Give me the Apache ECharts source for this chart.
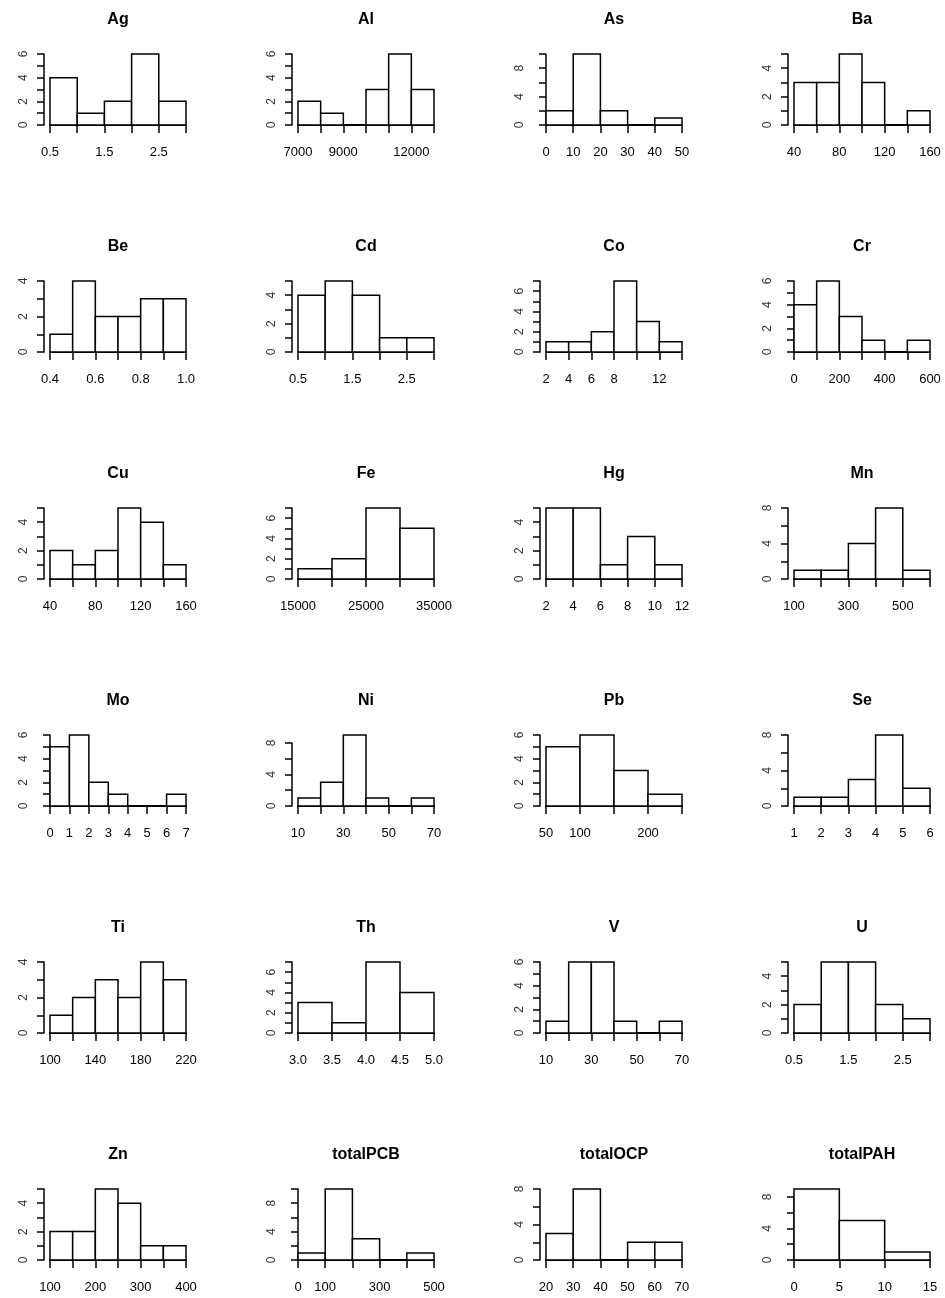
<!DOCTYPE html>
<html>
<head>
<meta charset="utf-8">
<script src="https://cdn.jsdelivr.net/npm/echarts@6/dist/echarts.min.js"></script>
<style>
  html, body { margin: 0; padding: 0; background: #ffffff; }
  #chart { width: 945px; height: 1298px; }
</style>
</head>
<body>
<div id="chart"></div>
<script>
// ---- data ----
const panelNames = ['Ag','Al','As','Ba','Be','Cd','Co','Cr','Cu','Fe','Hg','Mn',
                    'Mo','Ni','Pb','Se','Ti','Th','V','U','Zn','totalPCB','totalOCP','totalPAH'];
const breakStart = [0.5, 7000, 0, 40, 0.4, 0.5, 2, 0, 40, 15000, 2, 100,
                    0, 10, 50, 1, 100, 3.0, 10, 0.5, 100, 0, 20, 0];
const breakWidth = [0.5, 1000, 10, 20, 0.1, 0.5, 2, 100, 20, 5000, 2, 100,
                    1, 10, 50, 1, 20, 0.5, 10, 0.5, 50, 100, 10, 5];
const binCounts = [
  [4,1,2,6,2],        // Ag
  [2,1,0,3,6,3],      // Al
  [2,10,2,0,1],       // As
  [3,3,5,3,0,1],      // Ba
  [1,4,2,2,3,3],      // Be
  [4,5,4,1,1],        // Cd
  [1,1,2,7,3,1],      // Co
  [4,6,3,1,0,1],      // Cr
  [2,1,2,5,4,1],      // Cu
  [1,2,7,5],          // Fe
  [5,5,1,3,1],        // Hg
  [1,1,4,8,1],        // Mn
  [5,6,2,1,0,0,1],    // Mo
  [1,3,9,1,0,1],      // Ni
  [5,6,3,1],          // Pb
  [1,1,3,8,2],        // Se
  [1,2,3,2,4,3],      // Ti
  [3,1,7,4],          // Th
  [1,6,6,1,0,1],      // V
  [2,5,5,2,1],        // U
  [2,2,5,4,1,1],      // Zn
  [1,10,3,0,1],       // totalPCB
  [3,8,0,2,2],        // totalOCP
  [9,5,1]             // totalPAH
];
const xTickLabels = [
  ['0.5','1.5','2.5'], ['7000','9000','12000'], ['0','10','20','30','40','50'], ['40','80','120','160'],
  ['0.4','0.6','0.8','1.0'], ['0.5','1.5','2.5'], ['2','4','6','8','12'], ['0','200','400','600'],
  ['40','80','120','160'], ['15000','25000','35000'], ['2','4','6','8','10','12'], ['100','300','500'],
  ['0','1','2','3','4','5','6','7'], ['10','30','50','70'], ['50','100','200'], ['1','2','3','4','5','6'],
  ['100','140','180','220'], ['3.0','3.5','4.0','4.5','5.0'], ['10','30','50','70'], ['0.5','1.5','2.5'],
  ['100','200','300','400'], ['0','100','300','500'], ['20','30','40','50','60','70'], ['0','5','10','15']
];
const yAxisTop  = [6,6,10,5, 4,5,7,6, 5,7,5,8, 6,8,6,8, 4,7,6,5, 5,10,8,8];
const yAxisStep = [1,1,2,1, 1,1,1,1, 1,1,1,2, 1,2,1,2, 1,1,1,1, 1,2,2,2];
const yTickLabels = [
  ['0','2','4','6'], ['0','2','4','6'], ['0','4','8'], ['0','2','4'],
  ['0','2','4'], ['0','2','4'], ['0','2','4','6'], ['0','2','4','6'],
  ['0','2','4'], ['0','2','4','6'], ['0','2','4'], ['0','4','8'],
  ['0','2','4','6'], ['0','4','8'], ['0','2','4','6'], ['0','4','8'],
  ['0','2','4'], ['0','2','4','6'], ['0','2','4','6'], ['0','2','4'],
  ['0','2','4'], ['0','4','8'], ['0','4','8'], ['0','4','8']
];

// ---- layout ----
const colLeft0 = 50, colStride = 248, plotW = 136;
const rowBase0 = 125, rowStride = 227, dataH = 71;
const FONT = "'Liberation Sans', Arial, sans-serif";

const grids = [], xAxes = [], yAxes = [], series = [], titles = [];

function makeFormatter(labels) {
  const nums = labels.map(parseFloat);
  return function (v) {
    for (let k = 0; k < nums.length; k++) {
      if (Math.abs(v - nums[k]) < 1e-6 * Math.max(1, Math.abs(nums[k]))) return labels[k];
    }
    return '';
  };
}

panelNames.forEach((name, i) => {
  const r = Math.floor(i / 4), c = i % 4;
  const left = colLeft0 + c * colStride;
  const base = rowBase0 + r * rowStride;
  const counts = binCounts[i];
  const maxC = Math.max.apply(null, counts);
  const h = dataH * yAxisTop[i] / maxC;
  grids.push({ left: left, top: base - h, width: plotW, height: h });

  const x0 = breakStart[i], w = breakWidth[i];
  const xMax = x0 + w * counts.length;
  xAxes.push({
    type: 'value', gridIndex: i, min: x0, max: xMax, interval: w, offset: 1.5,
    axisLine: { show: true, lineStyle: { color: '#000', width: 2 } },
    axisTick: { show: true, length: 8, lineStyle: { color: '#000', width: 1.5 } },
    splitLine: { show: false },
    axisLabel: {
      formatter: makeFormatter(xTickLabels[i]), margin: 19, fontSize: 13,
      color: '#000', fontFamily: FONT, showMinLabel: true, showMaxLabel: true, hideOverlap: false
    }
  });
  yAxes.push({
    type: 'value', gridIndex: i, min: 0, max: yAxisTop[i], interval: yAxisStep[i], offset: 6,
    axisLine: { show: true, lineStyle: { color: '#000', width: 1.5 } },
    axisTick: { show: true, length: 7, lineStyle: { color: '#000', width: 1.5 } },
    splitLine: { show: false },
    axisLabel: {
      formatter: makeFormatter(yTickLabels[i]), rotate: 90, margin: 14, fontSize: 12,
      color: '#333', fontFamily: FONT, showMinLabel: true, showMaxLabel: true, hideOverlap: false
    }
  });
  const data = counts.map((cnt, k) => [x0 + k * w, x0 + (k + 1) * w, cnt]);
  series.push({
    type: 'custom', xAxisIndex: i, yAxisIndex: i, clip: false, silent: true,
    data: data,
    encode: { x: [0, 1], y: 2 },
    renderItem: function (params, api) {
      const p0 = api.coord([api.value(0), api.value(2)]);
      const p1 = api.coord([api.value(1), 0]);
      return {
        type: 'rect',
        shape: { x: p0[0], y: p0[1], width: p1[0] - p0[0], height: p1[1] - p0[1] },
        style: { fill: '#ffffff', stroke: '#000000', lineWidth: 1.5 }
      };
    }
  });
  titles.push({
    text: name, left: left + plotW / 2, top: base - 105 - 9, textAlign: 'center', padding: 0,
    textStyle: { fontSize: 16, fontWeight: 'bold', color: '#000', fontFamily: FONT, lineHeight: 18 }
  });
});

const chart = echarts.init(document.getElementById('chart'), null, { renderer: 'canvas' });
chart.setOption({
  backgroundColor: '#ffffff',
  animation: false,
  title: titles,
  grid: grids,
  xAxis: xAxes,
  yAxis: yAxes,
  series: series
});
</script>
</body>
</html>
